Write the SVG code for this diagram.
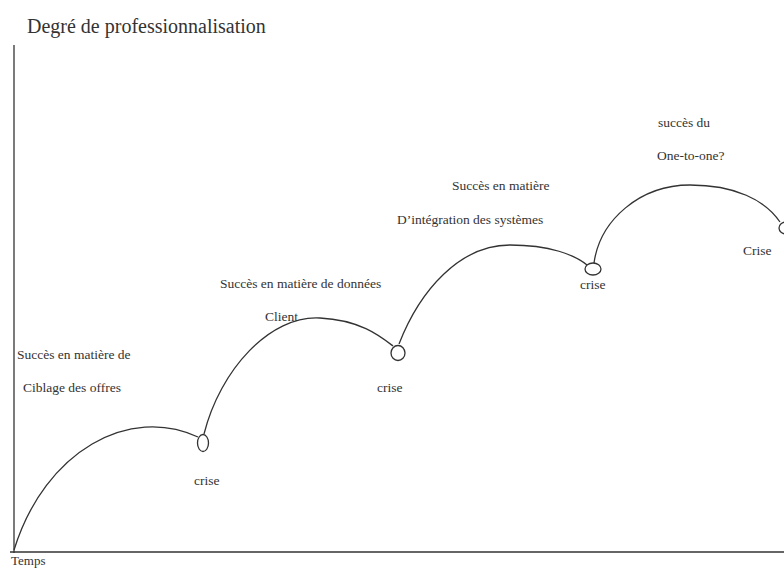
<svg xmlns="http://www.w3.org/2000/svg" width="784" height="568" viewBox="0 0 784 568">
<style>
text{font-family:"Liberation Serif","Times New Roman",serif;fill:#333}
.s{font-size:13.5px}
.c{fill:none;stroke:#333;stroke-width:1.3}
</style>
<rect width="784" height="568" fill="#fff"/>
<g id="axes">
<line class="c" x1="14" y1="45" x2="14" y2="553"/>
<line class="c" x1="10" y1="552" x2="784" y2="552" stroke-width="1.6"/>
<text x="27" y="33" font-size="20">Degré de professionnalisation</text>
<text x="11" y="565" font-size="13">Temps</text>
</g>
<g id="connectors">
<path class="c" d="M14,550 C 45,450 130,405 198,437"/>
<path class="c" d="M204,434 C 220,370 270,315 320,318 C 360,320 380,336 393,346"/>
<path class="c" d="M399,344 C 420,290 460,245 510,245 C 550,245 575,255 587,265"/>
<path class="c" d="M594,263 C 600,220 640,185 690,185 C 735,185 765,200 780,222"/>
</g>
<g id="crise1"><ellipse class="c" cx="203" cy="443" rx="5.5" ry="8.5"/><text class="s" x="194" y="485">crise</text></g>
<g id="crise2"><ellipse class="c" cx="398" cy="353" rx="7" ry="7.5"/><text class="s" x="377" y="392">crise</text></g>
<g id="crise3"><ellipse class="c" cx="593" cy="269" rx="8" ry="6"/><text class="s" x="580" y="289">crise</text></g>
<g id="crise4"><ellipse class="c" cx="786" cy="228" rx="7" ry="6"/><text class="s" x="743" y="255">Crise</text></g>
<g id="label1"><text class="s" x="17" y="359">Succès en matière de</text><text class="s" x="23" y="392">Ciblage  des offres</text></g>
<g id="label2"><text class="s" x="220" y="288">Succès en matière de données</text><text class="s" x="265" y="321">Client</text></g>
<g id="label3"><text class="s" x="452" y="190">Succès en matière</text><text class="s" x="397" y="224">D’intégration des systèmes</text></g>
<g id="label4"><text class="s" x="658" y="127">succès du</text><text class="s" x="657" y="160">One-to-one?</text></g>
</svg>
